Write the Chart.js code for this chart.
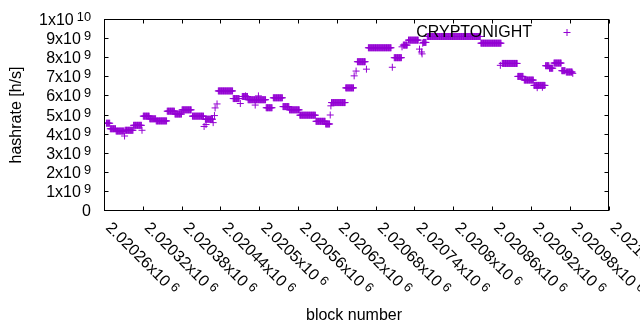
<!DOCTYPE html>
<html><head><meta charset="utf-8">
<script src="https://cdn.jsdelivr.net/npm/chart.js@4/dist/chart.umd.min.js"></script>
<style>html,body{margin:0;padding:0;background:#fff}#wrap{width:640px;height:330px}</style>
</head><body><div id="wrap"><canvas id="c" width="640" height="330"></canvas></div>
<script>
// Runs of consecutive blocks sharing the same hashrate (in units of 1e9 h/s)
const runStart = [2020263,2020269,2020278,2020292,2020305,2020320,2020330,2020340,2020357,2020369,2020380,2020396,2020416,2020436,2020459,2020473,2020482,2020510,2020521,2020536,2020546,2020562,2020587,2020602,2020611,2020633,2020651,2020668,2020708,2020722,2020730,2020753,2020759,2020842,2020875,2020899,2020909,2020924,2020942,2020948,2020955,2020967,2020974];
const runEnd   = [2020268,2020277,2020290,2020304,2020317,2020329,2020339,2020356,2020368,2020379,2020394,2020413,2020427,2020458,2020468,2020481,2020509,2020519,2020535,2020545,2020561,2020586,2020601,2020608,2020632,2020645,2020663,2020703,2020719,2020728,2020745,2020757,2020841,2020873,2020898,2020907,2020923,2020941,2020947,2020953,2020966,2020972,2020983];
const runHashrate = [4.57,4.28,4.16,4.20,4.46,4.94,4.80,4.69,5.20,5.05,5.27,4.94,4.78,6.26,5.86,5.97,5.80,5.38,5.90,5.44,5.27,4.99,4.67,4.53,5.65,6.42,7.79,8.52,8.00,8.66,8.92,8.80,9.11,8.76,7.70,7.02,6.83,6.55,7.58,7.45,7.72,7.32,7.25];
// Isolated blocks
const singleBlock = [2020291,2020318,2020414,2020417,2020428,2020430,2020431,2020434,2020470,2020478,2020493,2020498,2020609,2020610,2020646,2020649,2020665,2020705,2020720,2020747,2020750,2020751,2020752,2020872,2020929,2020937,2020984];
const singleHashrate = [3.90,4.20,4.40,4.50,4.60,4.97,5.37,5.58,5.60,6.00,5.52,6.00,5.00,5.48,7.05,7.30,7.40,7.50,8.57,8.45,8.30,8.20,8.76,7.60,6.43,6.45,7.18];

const xTickValues = [2020260,2020320,2020380,2020440,2020500,2020560,2020620,2020680,2020740,2020800,2020860,2020920,2020980,2021040];
const xTickBase = ['2.02026x10','2.02032x10','2.02038x10','2.02044x10','2.0205x10','2.02056x10','2.02062x10','2.02068x10','2.02074x10','2.0208x10','2.02086x10','2.02092x10','2.02098x10','2.02104x10'];
const xTickExp = '6';
const yTickValues = [0,1e9,2e9,3e9,4e9,5e9,6e9,7e9,8e9,9e9,1e10];
const yTickBase = ['0','1x10','2x10','3x10','4x10','5x10','6x10','7x10','8x10','9x10','1x10'];
const yTickExp  = ['','9','9','9','9','9','9','9','9','9','10'];

const seriesName = 'CRYPTONIGHT';
const xTitle = 'block number';
const yTitle = 'hashrate [h/s]';
const color = '#9400d3';
const FONT = '"Liberation Sans", Arial, sans-serif';

const points = [];
for (let i = 0; i < runStart.length; i++) {
  for (let b = runStart[i]; b <= runEnd[i]; b++) points.push({x: b, y: runHashrate[i] * 1e9});
}
for (let i = 0; i < singleBlock.length; i++) points.push({x: singleBlock[i], y: singleHashrate[i] * 1e9});

function drawSup(ctx, base, exp, size, gap) {
  ctx.font = size + 'px ' + FONT;
  ctx.fillText(base, 0, 0);
  let w = ctx.measureText(base).width;
  if (exp) {
    ctx.font = (size * 0.8) + 'px ' + FONT;
    ctx.fillText(exp, w + gap, -4);
    w += gap + ctx.measureText(exp).width;
  }
  return w;
}
function supWidth(ctx, base, exp, size, gap) {
  ctx.font = size + 'px ' + FONT;
  let w = ctx.measureText(base).width;
  if (exp) { ctx.font = (size * 0.8) + 'px ' + FONT; w += gap + ctx.measureText(exp).width; }
  return w;
}

const decor = {
  id: 'decor',
  afterDraw(chart) {
    const ctx = chart.ctx, a = chart.chartArea, xs = chart.scales.x, ys = chart.scales.y;
    const L = Math.floor(a.left) + 0.5, R = Math.floor(a.right) - 0.5, T = Math.floor(a.top) + 0.5, B = Math.floor(a.bottom) + 0.5;
    ctx.save();
    ctx.strokeStyle = '#000'; ctx.lineWidth = 1;
    ctx.strokeRect(L, T, R - L, B - T);
    ctx.beginPath();
    yTickValues.forEach(v => {
      const y = Math.round(ys.getPixelForValue(v) - 0.5) + 0.5;
      ctx.moveTo(L, y); ctx.lineTo(L + 4, y);
      ctx.moveTo(R, y); ctx.lineTo(R - 4, y);
    });
    xTickValues.forEach(v => {
      const x = Math.round(xs.getPixelForValue(v) - 0.5) + 0.5;
      ctx.moveTo(x, B); ctx.lineTo(x, B - 4);
      ctx.moveTo(x, T); ctx.lineTo(x, T + 4);
    });
    ctx.stroke();
    ctx.fillStyle = '#000';
    ctx.textBaseline = 'alphabetic'; ctx.textAlign = 'left';
    yTickValues.forEach((v, i) => {
      const y = ys.getPixelForValue(v);
      const w = supWidth(ctx, yTickBase[i], yTickExp[i], 16, 3);
      ctx.save(); ctx.translate(91 - w, y + 5.5); drawSup(ctx, yTickBase[i], yTickExp[i], 16, 3); ctx.restore();
    });
    xTickValues.forEach((v, i) => {
      const x = xs.getPixelForValue(v);
      ctx.save(); ctx.translate(x + 0.5, B + 18); ctx.rotate(Math.PI / 4);
      drawSup(ctx, xTickBase[i], xTickExp, 16, 4);
      ctx.restore();
    });
    ctx.font = '16px ' + FONT; ctx.textAlign = 'center'; ctx.textBaseline = 'middle';
    ctx.fillText(xTitle, 354, 316);
    ctx.save(); ctx.translate(17, 115); ctx.rotate(-Math.PI / 2); ctx.fillText(yTitle, 0, 0); ctx.restore();
    ctx.textAlign = 'right';
    ctx.fillText(seriesName, 532, 33);
    ctx.strokeStyle = color; ctx.beginPath();
    ctx.moveTo(563.5, 32.5); ctx.lineTo(570.5, 32.5); ctx.moveTo(567, 29); ctx.lineTo(567, 36); ctx.stroke();
    ctx.restore();
  }
};

new Chart(document.getElementById('c'), {
  type: 'scatter',
  data: { datasets: [{ label: seriesName, data: points, pointStyle: 'cross', pointRadius: 3.5, pointHoverRadius: 3.5,
    borderColor: color, backgroundColor: color, pointBorderWidth: 1, showLine: false }] },
  options: {
    responsive: false, animation: false, events: [],
    layout: { padding: { left: 104.5, right: 31, top: 19.5, bottom: 119.5 } },
    plugins: { legend: { display: false }, tooltip: { enabled: false } },
    scales: {
      x: { type: 'linear', display: false, min: 2020260, max: 2021040 },
      y: { type: 'linear', display: false, min: 0, max: 1e10 }
    }
  },
  plugins: [decor]
});
</script></body></html>
